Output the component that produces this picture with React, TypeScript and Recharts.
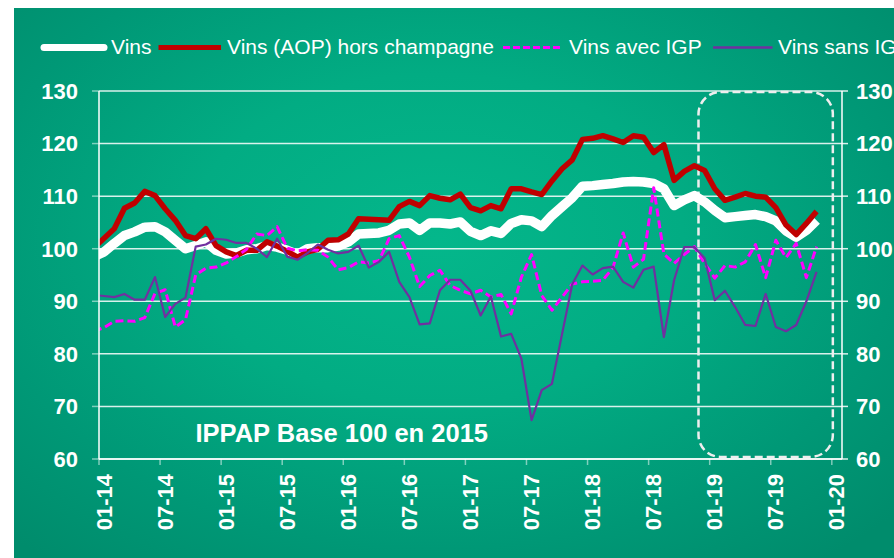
import React from "react";
import { LineChart, Line, XAxis, YAxis, CartesianGrid, ReferenceArea } from "recharts";

// Monthly categories (Dec-13 is partly outside the plot, clipped at the left axis)
const months = [
  "12-13",
  "01-14","02-14","03-14","04-14","05-14","06-14","07-14","08-14","09-14","10-14","11-14","12-14",
  "01-15","02-15","03-15","04-15","05-15","06-15","07-15","08-15","09-15","10-15","11-15","12-15",
  "01-16","02-16","03-16","04-16","05-16","06-16","07-16","08-16","09-16","10-16","11-16","12-16",
  "01-17","02-17","03-17","04-17","05-17","06-17","07-17","08-17","09-17","10-17","11-17","12-17",
  "01-18","02-18","03-18","04-18","05-18","06-18","07-18","08-18","09-18","10-18","11-18","12-18",
  "01-19","02-19","03-19","04-19","05-19","06-19","07-19","08-19","09-19","10-19","11-19",
];

const vins = [
  98.5,
  99.4, 101, 102.5, 103.2, 104.1, 104.2, 103.2, 101.6, 100, 100.6, 101.3, 99.7,
  99, 99.2, 99.8, 100, 100.6, 100.3, 99.7, 98.9, 100, 100.2, 100.2, 100.5,
  101.3, 102.8, 102.9, 103, 103.5, 104.7, 104.9, 103.5, 104.9, 104.9, 104.7, 105.1,
  103.3, 102.5, 103.4, 102.9, 104.8, 105.5, 105.3, 104.2, 106.3, 108, 109.7, 111.9,
  112, 112.2, 112.4, 112.7, 112.8, 112.7, 112.4, 111.4, 108.2, 109.3, 110.1, 108.9,
  107.3, 105.9, 106.1, 106.3, 106.5, 106.1, 105.3, 103.4, 102.2, 103.5, 105.4,
];

const aopHorsChampagne = [
  100.2,
  102, 103.8, 107.7, 108.7, 110.9, 110.1, 107.6, 105.4, 102.5, 101.9, 103.8, 100.6,
  99.4, 98.7, 99.7, 99.7, 101.3, 100.5, 99.5, 98.4, 99.4, 99.9, 101.6, 101.7,
  102.8, 105.7, 105.6, 105.5, 105.4, 108, 109, 108.2, 110.1, 109.6, 109.3, 110.4,
  107.8, 107.2, 108.2, 107.6, 111.4, 111.4, 110.8, 110.3, 112.9, 115.2, 116.9, 120.8,
  121, 121.5, 120.9, 120.2, 121.5, 121.2, 118.3, 119.8, 113, 114.7, 115.8, 114.9,
  111.4, 109.2, 109.8, 110.5, 110, 109.8, 107.8, 104.5, 102.7, 104.8, 107.1,
];

const avecIGP = [
  84.3,
  85, 86.2, 86.3, 86.2, 86.9, 91.5, 92.2, 85.1, 86.5, 95, 96.3, 96.5,
  97.3, 98.5, 99.9, 102.8, 102.5, 104.2, 100.1, 99.6, 99.8, 99.7, 98.4, 96,
  96.4, 97.5, 97.3, 97.7, 101.9, 102.5, 98.4, 92.8, 94.9, 95.9, 93, 92.1,
  91.4, 92.1, 90.8, 91.3, 87.6, 94.6, 98.9, 91.1, 88.3, 90.8, 93.3, 93.7,
  93.8, 94, 96.4, 103, 96.5, 98, 111.6, 99, 97.2, 98.9, 100.4, 97.2,
  94.4, 96.8, 96.5, 97.5, 100.8, 94.5, 101.6, 98.3, 101, 94.5, 100.4,
];

const sansIGP = [
  91.2,
  91, 90.8, 91.4, 90.3, 90.3, 94.6, 87, 89.5, 90.7, 100.4, 100.8, 101.9,
  101.7, 101.1, 101.1, 100, 98.4, 101.9, 98.5, 97.9, 99.2, 100.8, 99.8, 99.1,
  99.4, 100.6, 96.4, 97.5, 99.4, 93.7, 90.8, 85.6, 85.8, 92.1, 94.1, 94.1,
  92, 87.3, 90.9, 83.3, 83.8, 79.1, 67.4, 73.1, 74.3, 83.8, 93.3, 96.8,
  95.1, 96.3, 96.6, 93.7, 92.6, 96, 96.6, 83.2, 94, 100.3, 100.3, 98.2,
  90.2, 92, 88.9, 85.5, 85.3, 91.4, 85.1, 84.3, 85.5, 90, 95.6,
];

const tickLabels = ["01-14","07-14","01-15","07-15","01-16","07-16","01-17","07-17","01-18","07-18","01-19","07-19","01-20"];
const xTicks = [0, 6, 12, 18, 24, 30, 36, 42, 48, 54, 60, 66, 72];
const yTicks = [60, 70, 80, 90, 100, 110, 120, 130];

const legendNames = ["Vins", "Vins (AOP) hors champagne", "Vins avec IGP", "Vins sans IGP"];
const titleText = "IPPAP Base 100 en 2015";

// highlighted period (in axis units)
const highlight = { x1: 58.9, x2: 72.1, y1: 60.4, y2: 129.8 };

// each month sits in the middle of its band; Jan-14 band is [0,1]
const data = months.map((m, k) => ({
  month: m,
  pos: k - 0.5,
  vins: vins[k],
  aop: aopHorsChampagne[k],
  avec: avecIGP[k],
  sans: sansIGP[k],
}));

const FONT = "'Liberation Sans', Arial, Helvetica, sans-serif";

const XTick = (props: any) => {
  const { x, y, payload } = props;
  const label = tickLabels[Math.round(payload.value / 6)];
  return (
    <text
      x={x}
      y={y}
      transform={`rotate(-90, ${x}, ${y})`}
      textAnchor="end"
      dy={12.5}
      fill="#FFFFFF"
      fontSize={22}
      fontWeight="bold"
      fontFamily={FONT}
    >
      {label}
    </text>
  );
};

const DashedBox = (props: any) => {
  const { x, y, width, height } = props;
  return (
    <rect
      x={x}
      y={y}
      width={width}
      height={height}
      rx={22}
      ry={22}
      fill="none"
      stroke="#EEEEEE"
      strokeWidth={2.5}
      strokeDasharray="8 4"
    />
  );
};

export default function App() {
  const W = 880;
  const H = 550;
  return (
    <div
      style={{
        position: "absolute",
        left: 14,
        top: 8,
        width: W,
        height: H,
        overflow: "hidden",
        background:
          "radial-gradient(ellipse 70% 75% at 48% 42%, #04B78B 0%, #02AC83 40%, #009876 75%, #008C6C 100%)",
      }}
    >
      <LineChart
        width={W}
        height={H}
        data={data}
        margin={{ top: 83, right: 0, bottom: 0, left: 0 }}
      >
        <CartesianGrid horizontal vertical={false} stroke="#FFFFFF" strokeOpacity={0.85} strokeWidth={1.5} yAxisId="l" />
        <XAxis
          type="number"
          dataKey="pos"
          domain={[0, 73]}
          ticks={xTicks}
          allowDataOverflow
          interval={0}
          height={99}
          tickSize={6}
          tickMargin={9}
          axisLine={{ stroke: "#FFFFFF", strokeWidth: 1.5 }}
          tickLine={{ stroke: "#FFFFFF", strokeOpacity: 0.5, strokeWidth: 1.5 }}
          tick={<XTick />}
        />
        <YAxis
          yAxisId="l"
          type="number"
          domain={[60, 130]}
          ticks={yTicks}
          allowDataOverflow
          width={85}
          tickSize={7}
          tickMargin={14}
          axisLine={{ stroke: "#FFFFFF", strokeWidth: 1.5 }}
          tickLine={{ stroke: "#FFFFFF", strokeOpacity: 0.5, strokeWidth: 1.5 }}
          tick={{ fill: "#FFFFFF", fontSize: 22, fontWeight: "bold", fontFamily: FONT }}
        />
        <YAxis
          yAxisId="r"
          orientation="right"
          type="number"
          domain={[60, 130]}
          ticks={yTicks}
          allowDataOverflow
          width={52}
          tickSize={6}
          tickMargin={8}
          axisLine={{ stroke: "#FFFFFF", strokeWidth: 1.5 }}
          tickLine={{ stroke: "#FFFFFF", strokeOpacity: 0.85, strokeWidth: 1.5 }}
          tick={{ fill: "#FFFFFF", fontSize: 22, fontWeight: "bold", fontFamily: FONT, textAnchor: "start" }}
        />
        <ReferenceArea
          yAxisId="r"
          x1={highlight.x1}
          x2={highlight.x2}
          y1={highlight.y1}
          y2={highlight.y2}
          ifOverflow="visible"
          shape={<DashedBox />}
        />
        <Line
          yAxisId="l"
          type="linear"
          dataKey="vins"
          name={legendNames[0]}
          stroke="#FFFFFF"
          strokeWidth={9.5}
          strokeLinejoin="round"
          dot={false}
          activeDot={false}
          isAnimationActive={false}
        />
        <Line
          yAxisId="l"
          type="linear"
          dataKey="aop"
          name={legendNames[1]}
          stroke="#C00000"
          strokeWidth={5.5}
          strokeLinejoin="round"
          dot={false}
          activeDot={false}
          isAnimationActive={false}
        />
        <Line
          yAxisId="l"
          type="linear"
          dataKey="avec"
          name={legendNames[2]}
          stroke="#FF00FF"
          strokeWidth={3}
          strokeDasharray="8 4"
          strokeLinejoin="round"
          dot={false}
          activeDot={false}
          isAnimationActive={false}
        />
        <Line
          yAxisId="l"
          type="linear"
          dataKey="sans"
          name={legendNames[3]}
          stroke="#7030A0"
          strokeWidth={2.2}
          strokeLinejoin="round"
          dot={false}
          activeDot={false}
          isAnimationActive={false}
        />
      </LineChart>
      <svg
        width={W}
        height={H}
        style={{ position: "absolute", left: 0, top: 0, pointerEvents: "none" }}
      >
        <g fontFamily={FONT} fontSize={21} fill="#FFFFFF">
          <line x1={30} y1={39.5} x2={90} y2={39.5} stroke="#FFFFFF" strokeWidth={7} strokeLinecap="round" />
          <text x={97} y={46}>{legendNames[0]}</text>
          <line x1={144.5} y1={39.5} x2={207} y2={39.5} stroke="#C00000" strokeWidth={5} />
          <text x={213} y={46}>{legendNames[1]}</text>
          <line x1={489} y1={39.5} x2={549} y2={39.5} stroke="#FF00FF" strokeWidth={3} strokeDasharray="7 3" />
          <text x={555} y={46}>{legendNames[2]}</text>
          <line x1={699} y1={39.5} x2={758.5} y2={39.5} stroke="#7030A0" strokeWidth={2.5} />
          <text x={764} y={46}>{legendNames[3]}</text>
        </g>
        <text x={181.5} y={433.7} fontFamily={FONT} fontSize={25.5} fontWeight="bold" fill="#FFFFFF">
          {titleText}
        </text>
      </svg>
    </div>
  );
}
